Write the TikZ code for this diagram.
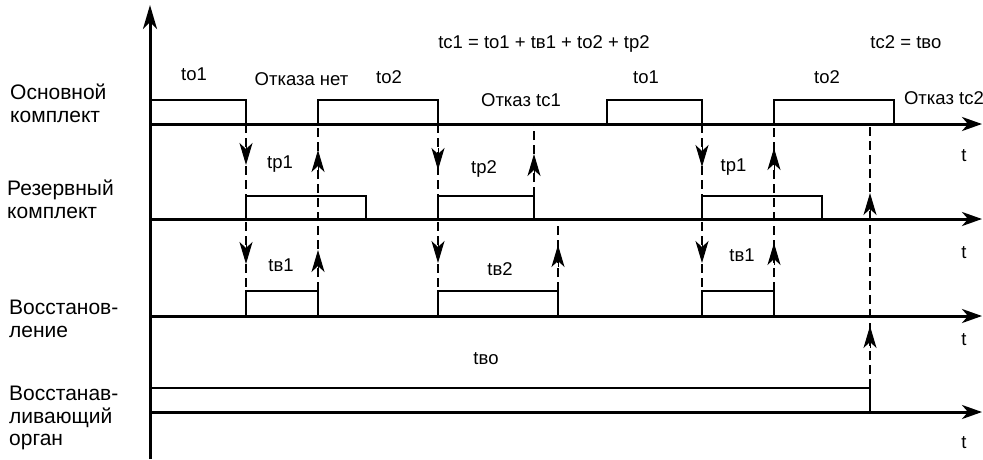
\documentclass[tikz,border=0pt]{standalone}
\usepackage{fontspec}
\setmainfont{Liberation Sans}
\usetikzlibrary{arrows.meta}
\newcommand\arrdn[2]{\draw[tipst] (#1,{#2-22}) -- (#1,#2);}
\newcommand\arrup[2]{\draw[tipst] (#1,{#2+22}) -- (#1,#2);}
\begin{document}
\begin{tikzpicture}[x=1pt,y=-1pt,
  axis/.style={line width=3pt,-{Stealth[length=20pt,width=14pt,inset=6pt]}},
  pulse/.style={line width=2.2pt,line join=miter},
  dashln/.style={line width=2pt,dash pattern=on 9pt off 5pt},
  tipst/.style={line width=1pt,-{Stealth[length=22pt,width=13pt,inset=6pt]}},
  lbl/.style={font=\fontsize{18.5}{21}\selectfont,inner sep=0pt,anchor=base},
  rowlbl/.style={font=\fontsize{21}{23}\selectfont,inner sep=0pt,anchor=west,align=left}]
\useasboundingbox (0,0) rectangle (983,459);
% axes
\draw[line width=3pt,-{Stealth[length=24pt,width=14pt,inset=7pt]}] (150,459) -- (150,5);
\draw[axis] (150,124) -- (982,124);
\draw[axis] (150,219) -- (982,219);
\draw[axis] (150,316) -- (982,316);
\draw[axis] (150,412) -- (982,412);
% row 1 pulses
\draw[pulse] (150,100) -- (246,100) -- (246,124);
\draw[pulse] (318,124) -- (318,100) -- (438,100) -- (438,124);
\draw[pulse] (607,124) -- (607,100) -- (702,100) -- (702,124);
\draw[pulse] (774,124) -- (774,100) -- (894,100) -- (894,124);
% row 2 pulses
\draw[pulse] (246,219) -- (246,196) -- (366,196) -- (366,219);
\draw[pulse] (438,219) -- (438,196) -- (534,196) -- (534,219);
\draw[pulse] (702,219) -- (702,196) -- (822,196) -- (822,219);
% row 3 pulses
\draw[pulse] (246,316) -- (246,291) -- (318,291) -- (318,316);
\draw[pulse] (438,316) -- (438,291) -- (558,291) -- (558,316);
\draw[pulse] (702,316) -- (702,291) -- (774,291) -- (774,316);
% row 4
\draw[pulse] (150,388) -- (870,388) -- (870,412);
% dashed links
\draw[dashln] (246,124) -- (246,291);
\draw[dashln] (318,291) -- (318,124);
\draw[dashln] (438,124) -- (438,291);
\draw[dashln] (534,196) -- (534,124);
\draw[dashln] (558,291) -- (558,219);
\draw[dashln] (702,124) -- (702,291);
\draw[dashln] (774,291) -- (774,124);
\draw[dashln] (870,388) -- (870,124);
% arrowheads
\arrdn{246}{165} \arrdn{246}{264}
\arrup{318}{150} \arrup{318}{250}
\arrdn{438}{170} \arrdn{438}{263}
\arrup{534}{154}
\arrup{558}{245}
\arrdn{702}{167} \arrdn{702}{263}
\arrup{774}{148} \arrup{774}{243}
\arrup{870}{193} \arrup{870}{326}
% row labels
\node[rowlbl] (r1) at (10,103) {Основной\\комплект};
\node[rowlbl] (r2) at (7,199) {Резервный\\комплект};
\node[rowlbl] (r3) at (9,319) {Восстанов-\\ление};
\node[rowlbl,font=\fontsize{21}{22.5}\selectfont] (r4) at (9,418) {Восстанав-\\ливающий\\орган};
% labels
\node[lbl] (l1) at (194,80.5) {to1};
\node[lbl] (l2) at (301.5,85) {Отказа нет};
\node[lbl] (l3) at (389,83) {to2};
\node[lbl] (l4) at (544,48.3) {tc1 = to1 + tв1 + to2 + tp2};
\node[lbl] (l5) at (521,106) {Отказ tc1};
\node[lbl] (l6) at (646,83) {to1};
\node[lbl] (l7) at (827,83) {to2};
\node[lbl] (l8) at (906,48.3) {tc2 = tвo};
\node[lbl,anchor=base east] (l9) at (984,104) {Отказ tc2};
\node[lbl] (l10) at (280,168) {tp1};
\node[lbl] (l11) at (484,173) {tp2};
\node[lbl] (l12) at (733.5,171.7) {tp1};
\node[lbl] (l13) at (281,271.7) {tв1};
\node[lbl] (l14) at (500,275) {tв2};
\node[lbl] (l15) at (742,261.7) {tв1};
\node[lbl] (l16) at (486,364) {tвo};
\node[lbl] (t1) at (964,161.7) {t};
\node[lbl] (t2) at (964,258.3) {t};
\node[lbl] (t3) at (964,345) {t};
\node[lbl] (t4) at (964,448.3) {t};
\end{tikzpicture}
\end{document}
